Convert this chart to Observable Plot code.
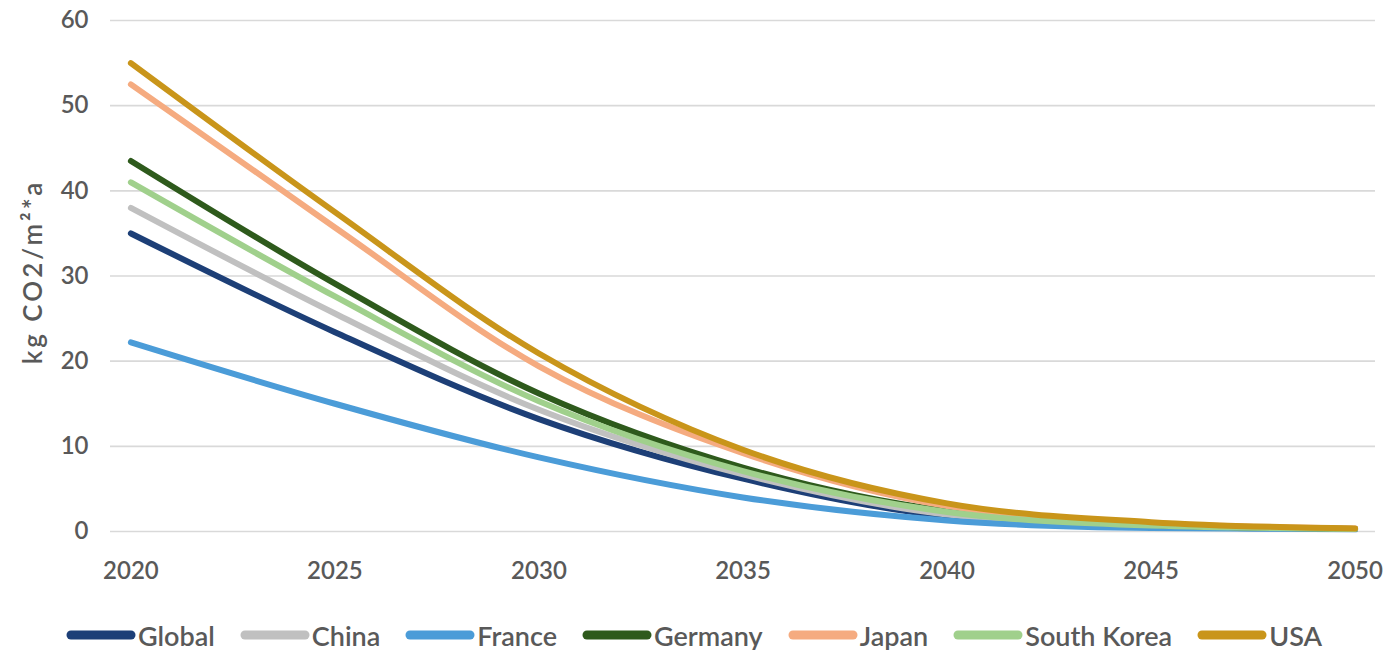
<!DOCTYPE html>
<html><head><meta charset="utf-8">
<script src="https://cdn.jsdelivr.net/npm/d3@7"></script>
<script src="https://cdn.jsdelivr.net/npm/@observablehq/plot@0.6"></script>
<style>
body{margin:0;background:#fff;font-family:Lato,sans-serif;}
#legend{display:flex;justify-content:center;align-items:center;gap:25px;height:30px;margin-top:10px;font-size:27px;font-weight:600;color:#595959;}
.item{display:flex;align-items:center;}
.item svg{display:block;margin-right:2px;}
</style></head><body><div id="chart"></div><div id="legend"></div>
<script>
const years = [2020, 2025, 2030, 2035, 2040, 2045, 2050];
const series = ["Global", "China", "France", "Germany", "Japan", "South Korea", "USA"];
const colors = ["#1d3f77", "#c0c0c0", "#4b9cd8", "#2e5a1c", "#f5ab80", "#a0d08c", "#c9951a"];
const globalVals  = [35.0, 23.4, 13.2, 6.2, 1.8, 0.6, 0.3];
const chinaVals   = [38.0, 25.6, 14.3, 6.7, 2.0, 0.6, 0.3];
const franceVals  = [22.2, 15.0, 8.7, 4.0, 1.3, 0.4, 0.25];
const germanyVals = [43.5, 29.1, 16.2, 7.5, 2.4, 0.8, 0.3];
const japanVals   = [52.5, 35.7, 19.4, 9.2, 3.0, 1.0, 0.35];
const koreaVals   = [41.0, 27.6, 15.3, 7.1, 2.3, 0.7, 0.3];
const usaVals     = [55.0, 37.5, 20.9, 9.6, 3.3, 1.1, 0.35];
const allVals = [globalVals, chinaVals, franceVals, germanyVals, japanVals, koreaVals, usaVals];
const yTicks = [0, 10, 20, 30, 40, 50, 60];
const xTicks = [2020, 2025, 2030, 2035, 2040, 2045, 2050];
const yLabel = "kg CO2/m²*a";

const data = series.flatMap((s, i) => allVals[i].map((v, j) => ({series: s, year: years[j], value: v})));

const chart = Plot.plot({
  width: 1388, height: 610,
  marginLeft: 110, marginRight: 13, marginTop: 20, marginBottom: 79,
  style: {fontFamily: "Lato, sans-serif", fontSize: "24px", color: "#595959", fontWeight: 600, background: "#fff"},
  x: {domain: [2019.5, 2050.5], ticks: xTicks, tickFormat: d => String(d), tickSize: 0, tickPadding: 30, label: null},
  y: {domain: [0, 60], ticks: yTicks, tickSize: 0, tickPadding: 22, label: null},
  color: {domain: series, range: colors},
  marks: [
    Plot.ruleY(yTicks, {stroke: "#d9d9d9", strokeWidth: 1.6}),
    Plot.line(data, {x: "year", y: "value", z: "series", stroke: "series", strokeWidth: 6, curve: "monotone-x", strokeLinecap: "round"}),
    Plot.text([yLabel], {text: d => d, frameAnchor: "left", textAnchor: "middle", lineAnchor: "middle", dx: -77, dy: -4, rotate: -90, fontSize: 26, fill: "#595959"})
  ]
});
chart.querySelectorAll("text").forEach(t => { if (t.textContent === yLabel) t.setAttribute("letter-spacing", "3"); });
document.getElementById("chart").appendChild(chart);

const legend = document.getElementById("legend");
series.forEach((s, i) => {
  const item = document.createElement("div");
  item.className = "item";
  item.innerHTML = `<svg width="70" height="14"><line x1="5" y1="7" x2="65" y2="7" stroke="${colors[i]}" stroke-width="9" stroke-linecap="round"/></svg><span>${s}</span>`;
  legend.appendChild(item);
});
</script>
</body></html>
